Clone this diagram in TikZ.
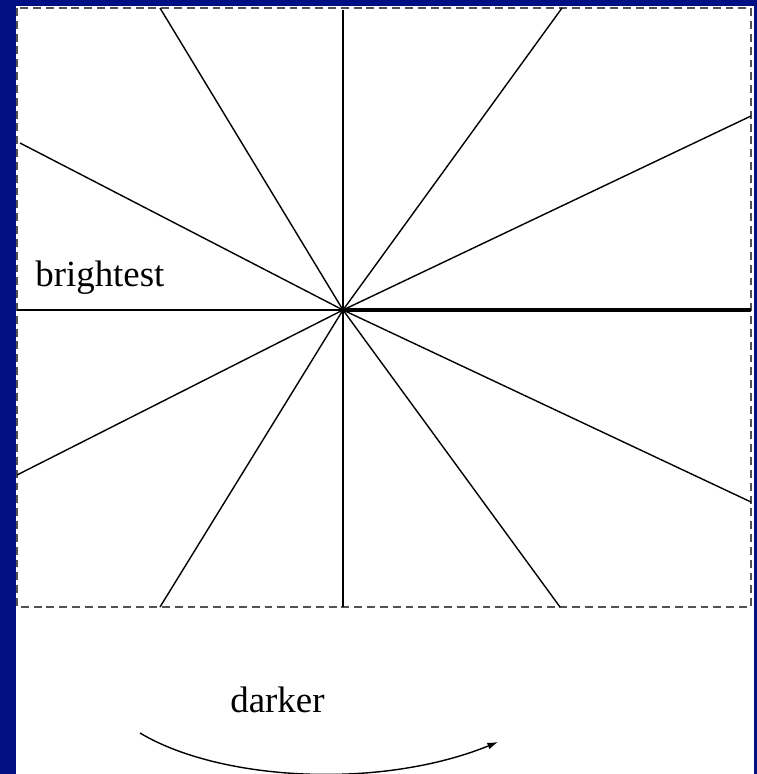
\documentclass[tikz,border=0pt]{standalone}
\usepackage{fontspec}
\setmainfont{Liberation Serif}
\usetikzlibrary{arrows.meta}
\definecolor{slideblue}{RGB}{0,15,130}

\begin{document}
\begin{tikzpicture}[
  x=.02cm,y=-.02cm,
  every node/.style={font=\fontsize{21}{25}\selectfont},
  spoke/.style={black,line width=.8pt},
  frame/.style={black!68,line width=1.1pt,dash pattern=on 4.5pt off 2.8pt}
]
\useasboundingbox (0,0) rectangle (757,774);
\fill[slideblue] (0,0) rectangle (757,774);
\fill[white] (16,6) rectangle (754,774);
\draw[frame] (17,8) rectangle (751,607);
\coordinate (c) at (343,310);
\foreach \p in {(160,8),(343,10),(562,8),(20,143),(751,116),(17,310),
                (17,475),(751,502),(160,607),(343,607),(560,607)} {
  \draw[spoke] (c) -- \p;
}
\coordinate (e) at (751,310);
\draw[line width=2.8pt] (c) -- (e);
\node[anchor=base west,inner sep=0pt] (bright) at (35,286) {brightest};
\node[anchor=base west,inner sep=0pt] (dark) at (230,712) {darker};
\coordinate (a0) at (140,733);
\coordinate (a1) at (498,742);
\draw[spoke,-{Latex[length=6pt,width=4pt]}] (a0) .. controls (220,781) and (380,790) .. (a1);
\end{tikzpicture}
\end{document}
